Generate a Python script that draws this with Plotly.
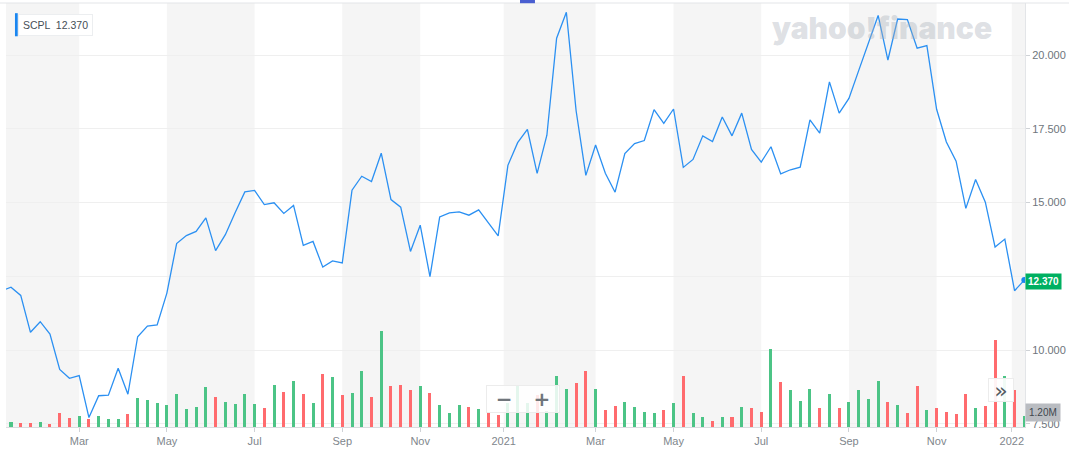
import pandas as pd
import plotly.graph_objects as go

# ---------------- data ----------------
symbol = "SCPL"
week_start = "2020-01-06"
close = [12.00, 12.13, 11.85, 10.60, 10.96, 10.54, 9.34, 9.04, 9.13, 7.71,
         8.45, 8.47, 9.38, 8.50, 10.45, 10.81, 10.85, 11.93, 13.61, 13.88,
         14.02, 14.48, 13.37, 13.91, 14.65, 15.36, 15.41, 14.93, 14.99, 14.63,
         14.90, 13.55, 13.68, 12.81, 13.02, 12.95, 15.42, 15.89, 15.71, 16.67,
         15.10, 14.84, 13.34, 14.23, 12.49, 14.51, 14.65, 14.68, 14.57, 14.75,
         14.31, 13.87, 16.26, 17.03, 17.48, 15.99, 17.28, 20.57, 21.45, 18.11,
         15.92, 16.95, 15.99, 15.35, 16.66, 17.00, 17.10, 18.15, 17.68, 18.17,
         16.19, 16.46, 17.26, 17.07, 17.90, 17.26, 18.03, 16.80, 16.37, 16.89,
         15.97, 16.11, 16.20, 17.80, 17.35, 19.09, 18.03, 18.53, 19.47, 20.40,
         21.34, 19.83, 21.22, 21.20, 20.23, 20.32, 18.16, 17.05, 16.40, 14.80,
         15.78, 15.01, 13.49, 13.76, 12.01, 12.37]
volume_m = [0.60, 0.59, 0.46, 0.46, 0.59, 0.38, 1.63, 0.97, 1.20, 0.89,
            1.20, 0.89, 0.89, 1.44, 3.30, 2.99, 2.71, 2.48, 3.76, 2.01,
            2.25, 4.47, 3.41, 2.79, 2.60, 3.76, 2.60, 2.17, 4.69, 3.96,
            5.20, 3.69, 2.71, 5.97, 5.63, 3.65, 3.84, 6.32, 3.41, 10.80,
            4.58, 4.69, 4.15, 4.58, 3.84, 2.48, 1.55, 2.48, 2.25, 2.06,
            1.71, 1.36, 2.70, 4.69, 2.70, 3.63, 1.82, 5.73, 4.25, 4.98,
            6.35, 4.33, 1.86, 2.36, 2.78, 2.24, 1.74, 1.54, 1.94, 2.71,
            5.73, 1.62, 1.08, 0.70, 1.08, 1.08, 2.24, 2.13, 1.74, 8.78,
            5.11, 4.14, 2.90, 4.33, 2.13, 3.75, 2.13, 2.78, 4.14, 3.17,
            5.18, 2.78, 2.48, 1.54, 4.56, 1.86, 2.13, 1.74, 1.43, 3.75,
            2.13, 2.36, 9.79, 5.79, 4.14, 1.20]
tick_dates = ["2020-03-02", "2020-05-04", "2020-07-06", "2020-09-07", "2020-11-02",
              "2021-01-01", "2021-03-08", "2021-05-03", "2021-07-05", "2021-09-06",
              "2021-11-08", "2022-01-01"]
tick_labels = ["Mar", "May", "Jul", "Sep", "Nov", "2021", "Mar", "May", "Jul",
               "Sep", "Nov", "2022"]
price_ticks = [7.5, 10.0, 12.5, 15.0, 17.5, 20.0]
# the 12.500 label sits under the live-price tag in the reference
price_tick_text = ["7.500", "10.000", "", "15.000", "17.500", "20.000"]
x_range = ["2020-01-09 10:00", "2022-01-10 12:00"]

dates = pd.date_range(week_start, periods=len(close), freq="7D")

GREEN = "#4cc486"
RED = "#ff6b6e"
bar_colors = [GREEN] + [GREEN if close[i] >= close[i - 1] else RED
                        for i in range(1, len(close))]

fig = go.Figure()
fig.add_trace(go.Bar(
    x=dates, y=volume_m, yaxis="y", marker=dict(color=bar_colors, line=dict(width=0)),
    width=7 * 86400000 * 0.31, hoverinfo="skip", showlegend=False))
fig.add_trace(go.Scatter(
    x=dates, y=close, yaxis="y2", mode="lines",
    line=dict(color="#2b90f2", width=1.3), showlegend=False))
fig.add_trace(go.Scatter(
    x=[dates[-1]], y=[close[-1]], yaxis="y2", mode="markers",
    marker=dict(color="#1a86f0", size=6), cliponaxis=False, showlegend=False))

# alternating two-month shaded bands
band_edges = [x_range[0]] + tick_dates + [x_range[1]]
shapes = []
for i in range(0, len(band_edges) - 1, 2):
    shapes.append(dict(type="rect", xref="x", yref="paper", x0=band_edges[i],
                       x1=band_edges[i + 1], y0=0, y1=1, fillcolor="#f5f5f5",
                       line=dict(width=0), layer="below"))
# top border line
shapes.append(dict(type="line", xref="paper", yref="paper", x0=-0.01, x1=1.05,
                   y0=1, y1=1, line=dict(color="#e3e5e8", width=1)))
# top tab indicator
shapes.append(dict(type="rect", xref="paper", yref="paper", x0=0.5044, x1=0.5191,
                   y0=0.9995, y1=1.0075, fillcolor="#4a5fd1", line=dict(width=0)))
# legend left accent bar
shapes.append(dict(type="rect", xref="paper", yref="paper", x0=0.0088, x1=0.0115,
                   y0=0.9215, y1=0.976, fillcolor="#1a86f0", line=dict(width=0)))

annotations = [
    dict(xref="paper", yref="paper", x=0.8594, y=0.941, xanchor="center",
         yanchor="middle", text="yahoo!finance", showarrow=False,
         font=dict(family="Inter", size=30, weight=900,
                   color="rgba(170,177,186,0.40)")),
    dict(xref="paper", yref="paper", x=0.0116, y=0.9487, xanchor="left",
         yanchor="middle", text=f"{symbol}  {close[-1]:.3f}", showarrow=False,
         bgcolor="white", bordercolor="#eceef0", borderwidth=1, borderpad=4,
         font=dict(family="Liberation Sans", size=10.5, color="#464e56")),
    dict(xref="paper", yref="y2", x=1.0, y=close[-1], xanchor="left",
         yanchor="middle", yshift=-1, text=f"<b>{close[-1]:.3f}</b>", showarrow=False,
         bgcolor="#00b061", borderpad=2,
         font=dict(family="Liberation Sans", size=10, color="white")),
    dict(xref="paper", yref="y", x=1.0, y=volume_m[-1], xanchor="left",
         yanchor="middle", yshift=4, text=f"{volume_m[-1]:.2f}M", showarrow=False,
         bgcolor="#b9bcc1", borderpad=3,
         font=dict(family="Liberation Sans", size=10, color="#40474e")),
    dict(xref="paper", yref="paper", x=0.5069, y=0.0649, xanchor="center",
         yanchor="middle", text="<b>−   +</b>",
         showarrow=False, bgcolor="rgba(255,255,255,0.85)", bordercolor="#ececec",
         borderwidth=1, width=70, height=24,
         font=dict(family="DejaVu Sans", size=20, color="#6f757b")),
    dict(xref="paper", yref="paper", x=0.976, y=0.0861, xanchor="center",
         yanchor="middle", text="»",
         showarrow=False, bgcolor="rgba(255,255,255,0.92)", bordercolor="#ececec",
         borderwidth=1, width=22, height=20,
         font=dict(family="DejaVu Sans", size=22, color="#555b61")),
]

fig.update_layout(
    width=1069, height=456,
    margin=dict(l=6, r=42, t=3, b=29),
    paper_bgcolor="white", plot_bgcolor="white",
    bargap=0, showlegend=False,
    font=dict(family="Liberation Sans", size=11, color="#7b8188"),
    xaxis=dict(type="date", range=x_range, tickvals=tick_dates, ticktext=tick_labels,
               ticks="outside", ticklen=4, tickcolor="#cfd2d6", showline=True,
               linecolor="#d9dcdf", showgrid=False, zeroline=False,
               tickfont=dict(size=11, color="#80868c")),
    yaxis=dict(range=[0, 47.7], visible=False, showgrid=False, zeroline=False),
    yaxis2=dict(overlaying="y", side="right", range=[7.39, 21.763],
                tickvals=price_ticks, ticktext=price_tick_text, showgrid=True,
                gridcolor="#efefef", ticks="outside", ticklen=4, tickcolor="#cfd2d6",
                showline=True, linecolor="#e3e5e8", zeroline=False,
                tickfont=dict(size=11, color="#6e757c")),
    shapes=shapes, annotations=annotations,
)

fig.write_html("out.html", config={"displayModeBar": False},
               post_script="document.body.style.margin='0';")
